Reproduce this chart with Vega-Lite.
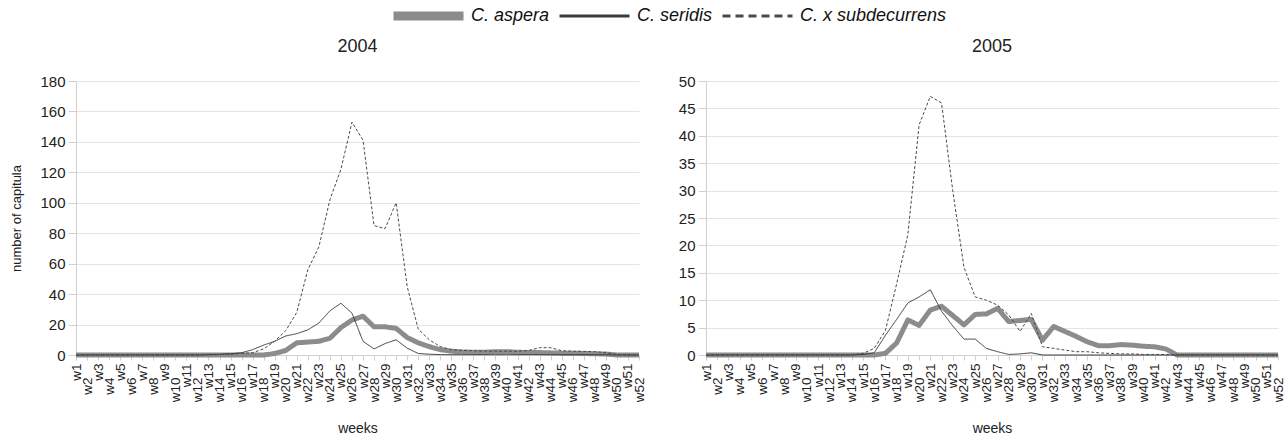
{
  "$schema": "https://vega.github.io/schema/vega-lite/v6.json",
  "autosize": {"type": "pad"},
  "padding": {"left": 10, "top": 6, "right": 5, "bottom": 5},
  "background": "white",
  "config": {
    "font": "Liberation Sans",
    "view": {"stroke": null},
    "concat": {"spacing": 32},
    "axis": {
      "labelFont": "Liberation Sans",
      "titleFont": "Liberation Sans",
      "domainColor": "#d0d0d0",
      "tickColor": "#d0d0d0",
      "gridColor": "#e4e4e4",
      "labelColor": "#222222",
      "titleColor": "#222222",
      "titleFontWeight": "normal"
    },
    "title": {"font": "Liberation Sans", "fontWeight": "normal", "color": "#222222"}
  },
  "data": {
    "values": [
      {"year": 2004, "wk": 1, "aspera": 0, "seridis": 0, "subdecurrens": 0},
      {"year": 2004, "wk": 2, "aspera": 0, "seridis": 0, "subdecurrens": 0},
      {"year": 2004, "wk": 3, "aspera": 0, "seridis": 0, "subdecurrens": 0},
      {"year": 2004, "wk": 4, "aspera": 0, "seridis": 0, "subdecurrens": 0},
      {"year": 2004, "wk": 5, "aspera": 0, "seridis": 0, "subdecurrens": 0},
      {"year": 2004, "wk": 6, "aspera": 0, "seridis": 0, "subdecurrens": 0},
      {"year": 2004, "wk": 7, "aspera": 0, "seridis": 0, "subdecurrens": 0},
      {"year": 2004, "wk": 8, "aspera": 0, "seridis": 0, "subdecurrens": 0},
      {"year": 2004, "wk": 9, "aspera": 0, "seridis": 0, "subdecurrens": 0},
      {"year": 2004, "wk": 10, "aspera": 0, "seridis": 0, "subdecurrens": 0},
      {"year": 2004, "wk": 11, "aspera": 0, "seridis": 0, "subdecurrens": 0},
      {"year": 2004, "wk": 12, "aspera": 0, "seridis": 0, "subdecurrens": 0},
      {"year": 2004, "wk": 13, "aspera": 0, "seridis": 0.2, "subdecurrens": 0.2},
      {"year": 2004, "wk": 14, "aspera": 0, "seridis": 0.4, "subdecurrens": 0.3},
      {"year": 2004, "wk": 15, "aspera": 0, "seridis": 0.8, "subdecurrens": 0.5},
      {"year": 2004, "wk": 16, "aspera": 0, "seridis": 1.5, "subdecurrens": 1},
      {"year": 2004, "wk": 17, "aspera": 0, "seridis": 3.5, "subdecurrens": 1.5},
      {"year": 2004, "wk": 18, "aspera": 0, "seridis": 6.5, "subdecurrens": 4},
      {"year": 2004, "wk": 19, "aspera": 1, "seridis": 9, "subdecurrens": 9},
      {"year": 2004, "wk": 20, "aspera": 3, "seridis": 12.5, "subdecurrens": 16},
      {"year": 2004, "wk": 21, "aspera": 8, "seridis": 14, "subdecurrens": 28},
      {"year": 2004, "wk": 22, "aspera": 8.5, "seridis": 16.5, "subdecurrens": 56},
      {"year": 2004, "wk": 23, "aspera": 9, "seridis": 21, "subdecurrens": 71},
      {"year": 2004, "wk": 24, "aspera": 11, "seridis": 29, "subdecurrens": 102},
      {"year": 2004, "wk": 25, "aspera": 18, "seridis": 34, "subdecurrens": 122},
      {"year": 2004, "wk": 26, "aspera": 23, "seridis": 27.5, "subdecurrens": 153},
      {"year": 2004, "wk": 27, "aspera": 25.5, "seridis": 9, "subdecurrens": 141},
      {"year": 2004, "wk": 28, "aspera": 18.5, "seridis": 4, "subdecurrens": 85},
      {"year": 2004, "wk": 29, "aspera": 18.5, "seridis": 7.5, "subdecurrens": 83},
      {"year": 2004, "wk": 30, "aspera": 17.5, "seridis": 10, "subdecurrens": 100},
      {"year": 2004, "wk": 31, "aspera": 11.5, "seridis": 4.5, "subdecurrens": 45},
      {"year": 2004, "wk": 32, "aspera": 8, "seridis": 1, "subdecurrens": 17},
      {"year": 2004, "wk": 33, "aspera": 5.5, "seridis": 0.5, "subdecurrens": 10},
      {"year": 2004, "wk": 34, "aspera": 3.5, "seridis": 0.3, "subdecurrens": 5.5},
      {"year": 2004, "wk": 35, "aspera": 2.5, "seridis": 0.2, "subdecurrens": 3.5},
      {"year": 2004, "wk": 36, "aspera": 2, "seridis": 0.2, "subdecurrens": 3},
      {"year": 2004, "wk": 37, "aspera": 1.8, "seridis": 0.2, "subdecurrens": 2.8},
      {"year": 2004, "wk": 38, "aspera": 1.8, "seridis": 0.2, "subdecurrens": 2.6},
      {"year": 2004, "wk": 39, "aspera": 2.2, "seridis": 0.2, "subdecurrens": 2.5},
      {"year": 2004, "wk": 40, "aspera": 2.2, "seridis": 0.2, "subdecurrens": 2.5},
      {"year": 2004, "wk": 41, "aspera": 1.8, "seridis": 0.2, "subdecurrens": 2.5},
      {"year": 2004, "wk": 42, "aspera": 1.6, "seridis": 0.2, "subdecurrens": 3},
      {"year": 2004, "wk": 43, "aspera": 1.6, "seridis": 0.2, "subdecurrens": 4.8},
      {"year": 2004, "wk": 44, "aspera": 1.4, "seridis": 0.2, "subdecurrens": 4.8},
      {"year": 2004, "wk": 45, "aspera": 1.2, "seridis": 0.2, "subdecurrens": 2.8},
      {"year": 2004, "wk": 46, "aspera": 1.2, "seridis": 0.2, "subdecurrens": 2.5},
      {"year": 2004, "wk": 47, "aspera": 1, "seridis": 0.2, "subdecurrens": 2.4},
      {"year": 2004, "wk": 48, "aspera": 0.8, "seridis": 0.2, "subdecurrens": 2.2},
      {"year": 2004, "wk": 49, "aspera": 0.6, "seridis": 0.2, "subdecurrens": 1.5},
      {"year": 2004, "wk": 50, "aspera": 0, "seridis": 0, "subdecurrens": 0.3},
      {"year": 2004, "wk": 51, "aspera": 0, "seridis": 0, "subdecurrens": 0},
      {"year": 2004, "wk": 52, "aspera": 0, "seridis": 0, "subdecurrens": 0},
      {"year": 2005, "wk": 1, "aspera": 0, "seridis": 0, "subdecurrens": 0},
      {"year": 2005, "wk": 2, "aspera": 0, "seridis": 0, "subdecurrens": 0},
      {"year": 2005, "wk": 3, "aspera": 0, "seridis": 0, "subdecurrens": 0},
      {"year": 2005, "wk": 4, "aspera": 0, "seridis": 0, "subdecurrens": 0},
      {"year": 2005, "wk": 5, "aspera": 0, "seridis": 0, "subdecurrens": 0},
      {"year": 2005, "wk": 6, "aspera": 0, "seridis": 0, "subdecurrens": 0},
      {"year": 2005, "wk": 7, "aspera": 0, "seridis": 0, "subdecurrens": 0},
      {"year": 2005, "wk": 8, "aspera": 0, "seridis": 0, "subdecurrens": 0},
      {"year": 2005, "wk": 9, "aspera": 0, "seridis": 0, "subdecurrens": 0},
      {"year": 2005, "wk": 10, "aspera": 0, "seridis": 0, "subdecurrens": 0},
      {"year": 2005, "wk": 11, "aspera": 0, "seridis": 0, "subdecurrens": 0},
      {"year": 2005, "wk": 12, "aspera": 0, "seridis": 0, "subdecurrens": 0},
      {"year": 2005, "wk": 13, "aspera": 0, "seridis": 0, "subdecurrens": 0},
      {"year": 2005, "wk": 14, "aspera": 0, "seridis": 0, "subdecurrens": 0},
      {"year": 2005, "wk": 15, "aspera": 0, "seridis": 0.1, "subdecurrens": 0.3},
      {"year": 2005, "wk": 16, "aspera": 0, "seridis": 0.4, "subdecurrens": 1.2},
      {"year": 2005, "wk": 17, "aspera": 0.3, "seridis": 3.6, "subdecurrens": 4.5},
      {"year": 2005, "wk": 18, "aspera": 2.2, "seridis": 6.5, "subdecurrens": 13},
      {"year": 2005, "wk": 19, "aspera": 6.4, "seridis": 9.5, "subdecurrens": 22},
      {"year": 2005, "wk": 20, "aspera": 5.4, "seridis": 10.6, "subdecurrens": 42},
      {"year": 2005, "wk": 21, "aspera": 8.2, "seridis": 11.9, "subdecurrens": 47.2},
      {"year": 2005, "wk": 22, "aspera": 8.9, "seridis": 8, "subdecurrens": 46},
      {"year": 2005, "wk": 23, "aspera": 7.2, "seridis": 5.3, "subdecurrens": 30},
      {"year": 2005, "wk": 24, "aspera": 5.5, "seridis": 2.9, "subdecurrens": 16},
      {"year": 2005, "wk": 25, "aspera": 7.4, "seridis": 2.9, "subdecurrens": 10.6},
      {"year": 2005, "wk": 26, "aspera": 7.5, "seridis": 1.2, "subdecurrens": 10},
      {"year": 2005, "wk": 27, "aspera": 8.5, "seridis": 0.6, "subdecurrens": 9.1},
      {"year": 2005, "wk": 28, "aspera": 6.1, "seridis": 0.1, "subdecurrens": 7.3},
      {"year": 2005, "wk": 29, "aspera": 6.3, "seridis": 0.2, "subdecurrens": 4.3},
      {"year": 2005, "wk": 30, "aspera": 6.5, "seridis": 0.4, "subdecurrens": 7.6},
      {"year": 2005, "wk": 31, "aspera": 2.7, "seridis": 0, "subdecurrens": 1.5},
      {"year": 2005, "wk": 32, "aspera": 5.2, "seridis": 0, "subdecurrens": 1.2},
      {"year": 2005, "wk": 33, "aspera": 4.3, "seridis": 0, "subdecurrens": 0.9},
      {"year": 2005, "wk": 34, "aspera": 3.4, "seridis": 0, "subdecurrens": 0.6},
      {"year": 2005, "wk": 35, "aspera": 2.4, "seridis": 0, "subdecurrens": 0.6},
      {"year": 2005, "wk": 36, "aspera": 1.7, "seridis": 0, "subdecurrens": 0.4},
      {"year": 2005, "wk": 37, "aspera": 1.7, "seridis": 0, "subdecurrens": 0.3},
      {"year": 2005, "wk": 38, "aspera": 1.9, "seridis": 0, "subdecurrens": 0.2},
      {"year": 2005, "wk": 39, "aspera": 1.8, "seridis": 0, "subdecurrens": 0.2},
      {"year": 2005, "wk": 40, "aspera": 1.6, "seridis": 0, "subdecurrens": 0.1},
      {"year": 2005, "wk": 41, "aspera": 1.5, "seridis": 0, "subdecurrens": 0.1},
      {"year": 2005, "wk": 42, "aspera": 1.1, "seridis": 0, "subdecurrens": 0.1},
      {"year": 2005, "wk": 43, "aspera": 0, "seridis": 0, "subdecurrens": 0},
      {"year": 2005, "wk": 44, "aspera": 0, "seridis": 0, "subdecurrens": 0},
      {"year": 2005, "wk": 45, "aspera": 0, "seridis": 0, "subdecurrens": 0},
      {"year": 2005, "wk": 46, "aspera": 0, "seridis": 0, "subdecurrens": 0},
      {"year": 2005, "wk": 47, "aspera": 0, "seridis": 0, "subdecurrens": 0},
      {"year": 2005, "wk": 48, "aspera": 0, "seridis": 0, "subdecurrens": 0},
      {"year": 2005, "wk": 49, "aspera": 0, "seridis": 0, "subdecurrens": 0},
      {"year": 2005, "wk": 50, "aspera": 0, "seridis": 0, "subdecurrens": 0},
      {"year": 2005, "wk": 51, "aspera": 0, "seridis": 0, "subdecurrens": 0},
      {"year": 2005, "wk": 52, "aspera": 0, "seridis": 0, "subdecurrens": 0}
    ]
  },
  "transform": [{"fold": ["aspera", "seridis", "subdecurrens"], "as": ["species", "count"]}],
  "hconcat": [
    {
      "width": 563,
      "height": 274,
      "title": {"text": "2004", "fontSize": 18, "offset": 18},
      "transform": [{"filter": "datum.year == 2004"}],
      "mark": {"type": "line", "strokeJoin": "round", "strokeCap": "butt"},
      "encoding": {
        "x": {
          "field": "wk", "type": "quantitative",
          "scale": {"domain": [1, 52], "nice": false, "zero": false},
          "axis": {
            "values": [1,2,3,4,5,6,7,8,9,10,11,12,13,14,15,16,17,18,19,20,21,22,23,24,25,26,27,28,29,30,31,32,33,34,35,36,37,38,39,40,41,42,43,44,45,46,47,48,49,50,51,52],
            "labelExpr": "'w' + datum.value",
            "labelAngle": -90, "labelAlign": "right", "labelBaseline": "middle",
            "labelFontSize": 13.5, "labelOverlap": false, "labelFlush": false,
            "labelPadding": {"condition": {"test": "datum.value % 2 == 0", "value": 17}, "value": 3},
            "tickSize": 5, "grid": false,
            "title": "weeks", "titleFontSize": 14, "titlePadding": 20
          }
        },
        "y": {
          "field": "count", "type": "quantitative",
          "scale": {"domain": [0, 180], "nice": false},
          "axis": {
            "values": [0,20,40,60,80,100,120,140,160,180],
            "tickSize": 8, "labelFontSize": 15, "labelPadding": 3,
            "title": "number of capitula", "titleFontSize": 13, "titlePadding": 16
          }
        },
        "color": {
          "field": "species", "type": "nominal",
          "scale": {"domain": ["aspera", "seridis", "subdecurrens"], "range": ["#8c8c8c", "#3a3a3a", "#4a4a4a"]},
          "legend": {
            "orient": "none", "legendX": 316, "legendY": -75,
            "direction": "horizontal", "title": null,
            "symbolType": "stroke", "symbolSize": 4900, "symbolStrokeWidth": 9,
            "clipHeight": 20,
            "labelFontSize": 18, "labelFontStyle": "italic", "labelColor": "#111111",
            "labelOffset": 6, "columnPadding": 8,
            "labelExpr": "'C. ' + (datum.value == 'subdecurrens' ? 'x subdecurrens' : datum.value)",
            "encode": {
              "symbols": {
                "update": {
                  "strokeWidth": {"signal": "(datum.value == 'aspera' ? 9 : 3)"},
                  "strokeDash": {"signal": "(datum.value == 'subdecurrens' ? [8, 5] : [1, 0])"}
                }
              }
            }
          }
        },
        "strokeWidth": {"condition": {"test": "datum.species == 'aspera'", "value": 5}, "value": 1},
        "strokeDash": {"condition": {"test": "datum.species == 'subdecurrens'", "value": [3, 2]}, "value": [1, 0]}
      }
    },
    {
      "width": 572,
      "height": 274,
      "title": {"text": "2005", "fontSize": 18, "offset": 18},
      "transform": [{"filter": "datum.year == 2005"}],
      "mark": {"type": "line", "strokeJoin": "round", "strokeCap": "butt"},
      "encoding": {
        "x": {
          "field": "wk", "type": "quantitative",
          "scale": {"domain": [1, 52], "nice": false, "zero": false},
          "axis": {
            "values": [1,2,3,4,5,6,7,8,9,10,11,12,13,14,15,16,17,18,19,20,21,22,23,24,25,26,27,28,29,30,31,32,33,34,35,36,37,38,39,40,41,42,43,44,45,46,47,48,49,50,51,52],
            "labelExpr": "'w' + datum.value",
            "labelAngle": -90, "labelAlign": "right", "labelBaseline": "middle",
            "labelFontSize": 13.5, "labelOverlap": false, "labelFlush": false,
            "labelPadding": {"condition": {"test": "datum.value % 2 == 0", "value": 17}, "value": 3},
            "tickSize": 5, "grid": false,
            "title": "weeks", "titleFontSize": 14, "titlePadding": 20
          }
        },
        "y": {
          "field": "count", "type": "quantitative",
          "scale": {"domain": [0, 50], "nice": false},
          "axis": {
            "values": [0,5,10,15,20,25,30,35,40,45,50],
            "tickSize": 8, "labelFontSize": 15, "labelPadding": 3,
            "title": null
          }
        },
        "color": {
          "field": "species", "type": "nominal",
          "scale": {"domain": ["aspera", "seridis", "subdecurrens"], "range": ["#8c8c8c", "#3a3a3a", "#4a4a4a"]}
        },
        "strokeWidth": {"condition": {"test": "datum.species == 'aspera'", "value": 5}, "value": 1},
        "strokeDash": {"condition": {"test": "datum.species == 'subdecurrens'", "value": [3, 2]}, "value": [1, 0]}
      }
    }
  ],
  "resolve": {"scale": {"y": "independent"}}
}
